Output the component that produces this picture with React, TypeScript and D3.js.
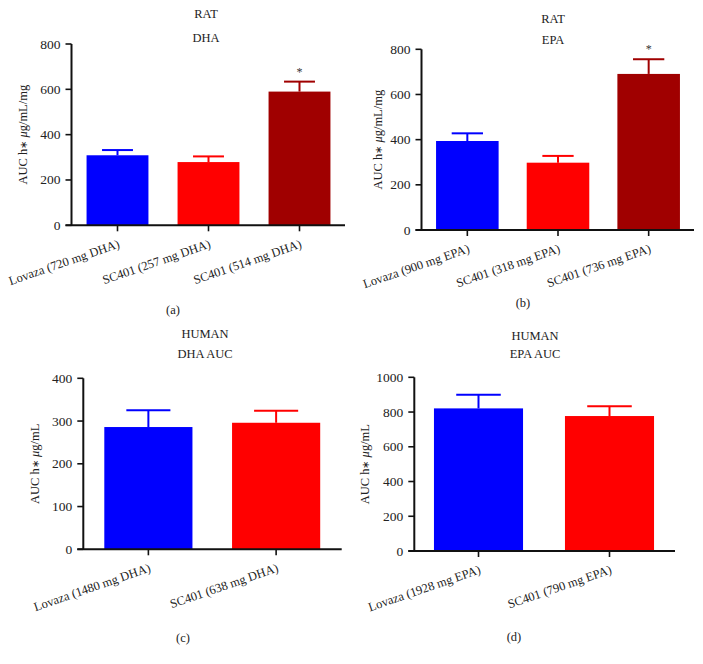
import React from "react";
import * as d3 from "d3";

// ---------- data ----------
const ratDhaCategories = ["Lovaza (720 mg DHA)", "SC401 (257 mg DHA)", "SC401 (514 mg DHA)"];
const ratDhaMeans = [309, 279, 590];
const ratDhaErrors = [23, 25, 44];
const ratDhaSignificant = [false, false, true];

const ratEpaCategories = ["Lovaza (900 mg EPA)", "SC401 (318 mg EPA)", "SC401 (736 mg EPA)"];
const ratEpaMeans = [394, 298, 691];
const ratEpaErrors = [34, 30, 65];
const ratEpaSignificant = [false, false, true];

const humanDhaCategories = ["Lovaza (1480 mg DHA)", "SC401 (638 mg DHA)"];
const humanDhaMeans = [286, 296];
const humanDhaErrors = [39, 28];

const humanEpaCategories = ["Lovaza (1928 mg EPA)", "SC401 (790 mg EPA)"];
const humanEpaMeans = [821, 777];
const humanEpaErrors = [79, 56];

const ratTicks = [0, 200, 400, 600, 800];
const humanDhaTicks = [0, 100, 200, 300, 400];
const humanEpaTicks = [0, 200, 400, 600, 800, 1000];

const BLUE = "#0000FF";
const RED = "#FF0000";
const DARKRED = "#A00000";

const FONT = "'Liberation Serif', 'Times New Roman', serif";

type PanelProps = {
  categories: string[];
  means: number[];
  errors: number[];
  significant?: boolean[];
  colors: string[];
  ticks: number[];
  yMax: number;
  axisX: number;
  rangeX: [number, number];
  xEnd: number;
  yTop: number;
  yBottom: number;
  barFrac: number;
  titles: [string, string, number, number];
  titleX: number;
  yLabelX: number;
  yLabelUnit: string;
  letter: string;
  letterPos: [number, number];
};

function Panel(p: PanelProps) {
  const y = d3.scaleLinear().domain([0, p.yMax]).range([p.yBottom, p.yTop]);
  const x = d3.scaleBand<string>().domain(p.categories).range(p.rangeX).padding(0);
  const bw = x.bandwidth() * p.barFrac;
  const yMid = (p.yTop + p.yBottom) / 2;
  return (
    <g fontFamily={FONT} fill="#222">
      <text x={p.titleX} y={p.titles[2]} textAnchor="middle" fontSize={12.5} dominantBaseline="central">{p.titles[0]}</text>
      <text x={p.titleX} y={p.titles[3]} textAnchor="middle" fontSize={12.5} dominantBaseline="central">{p.titles[1]}</text>
      {p.categories.map((c, i) => {
        const cx = (x(c) as number) + x.bandwidth() / 2;
        const top = y(p.means[i]);
        const et = y(p.means[i] + p.errors[i]);
        return (
          <g key={c}>
            <rect x={cx - bw / 2} y={top} width={bw} height={p.yBottom - top} fill={p.colors[i]} />
            <line x1={cx} x2={cx} y1={top} y2={et} stroke={p.colors[i]} strokeWidth={2} />
            <line x1={cx - bw / 4} x2={cx + bw / 4} y1={et} y2={et} stroke={p.colors[i]} strokeWidth={2} />
            {p.significant && p.significant[i] ? (
              <text x={cx} y={et - 6} textAnchor="middle" fontSize={12} fill="#333">*</text>
            ) : null}
            <line x1={cx} x2={cx} y1={p.yBottom} y2={p.yBottom + 6} stroke="#111" strokeWidth={1.6} />
            <text
              transform={`translate(${cx + 3},${p.yBottom + 22}) rotate(-19)`}
              textAnchor="end"
              fontSize={12.5}
              fill="#222"
            >{c}</text>
          </g>
        );
      })}
      <line x1={p.axisX} x2={p.axisX} y1={p.yTop} y2={p.yBottom} stroke="#111" strokeWidth={2} />
      <line x1={p.axisX - 6} x2={p.xEnd} y1={p.yBottom} y2={p.yBottom} stroke="#111" strokeWidth={2} />
      {p.ticks.map((t) => (
        <g key={t}>
          <line x1={p.axisX - 6} x2={p.axisX} y1={y(t)} y2={y(t)} stroke="#111" strokeWidth={1.6} />
          <text x={p.axisX - 11} y={y(t)} textAnchor="end" dominantBaseline="central" fontSize={13.5} fill="#222">{t}</text>
        </g>
      ))}
      <text
        transform={`translate(${p.yLabelX},${yMid}) rotate(-90)`}
        textAnchor="middle"
        dominantBaseline="central"
        fontSize={12.5}
        fill="#222"
      >
        AUC h<tspan fontSize={10}>∗</tspan> <tspan fontStyle="italic">μ</tspan>{"g/" + p.yLabelUnit}
      </text>
      <text x={p.letterPos[0]} y={p.letterPos[1]} textAnchor="middle" dominantBaseline="central" fontSize={12.5} fill="#222">{p.letter}</text>
    </g>
  );
}

export default function App() {
  return (
    <svg width={703} height={664} style={{ position: "absolute", left: 0, top: 0, background: "#fff" }}>
      <rect width={703} height={664} fill="#fff" />
      <Panel
        categories={ratDhaCategories}
        means={ratDhaMeans}
        errors={ratDhaErrors}
        significant={ratDhaSignificant}
        colors={[BLUE, RED, DARKRED]}
        ticks={ratTicks}
        yMax={800}
        axisX={71.5}
        rangeX={[72, 345]}
        xEnd={345}
        yTop={44}
        yBottom={225.3}
        barFrac={0.68}
        titles={["RAT", "DHA", 13.5, 37.5]}
        titleX={206}
        yLabelX={23}
        yLabelUnit="mL/mg"
        letter="(a)"
        letterPos={[173, 310]}
      />
      <Panel
        categories={ratEpaCategories}
        means={ratEpaMeans}
        errors={ratEpaErrors}
        significant={ratEpaSignificant}
        colors={[BLUE, RED, DARKRED]}
        ticks={ratTicks}
        yMax={800}
        axisX={421.5}
        rangeX={[422, 694]}
        xEnd={694}
        yTop={49.3}
        yBottom={230}
        barFrac={0.69}
        titles={["RAT", "EPA", 19, 39.5]}
        titleX={553}
        yLabelX={378}
        yLabelUnit="mL/mg"
        letter="(b)"
        letterPos={[523, 303]}
      />
      <Panel
        categories={humanDhaCategories}
        means={humanDhaMeans}
        errors={humanDhaErrors}
        colors={[BLUE, RED]}
        ticks={humanDhaTicks}
        yMax={400}
        axisX={83.3}
        rangeX={[84.5, 340]}
        xEnd={341.7}
        yTop={378.3}
        yBottom={549.3}
        barFrac={0.69}
        titles={["HUMAN", "DHA AUC", 333.5, 354]}
        titleX={205}
        yLabelX={35}
        yLabelUnit="mL"
        letter="(c)"
        letterPos={[183, 638]}
      />
      <Panel
        categories={humanEpaCategories}
        means={humanEpaMeans}
        errors={humanEpaErrors}
        colors={[BLUE, RED]}
        ticks={humanEpaTicks}
        yMax={1000}
        axisX={414.3}
        rangeX={[413, 675]}
        xEnd={675}
        yTop={377.3}
        yBottom={551}
        barFrac={0.68}
        titles={["HUMAN", "EPA AUC", 336, 353.5]}
        titleX={535}
        yLabelX={365}
        yLabelUnit="mL"
        letter="(d)"
        letterPos={[514, 637]}
      />
    </svg>
  );
}
